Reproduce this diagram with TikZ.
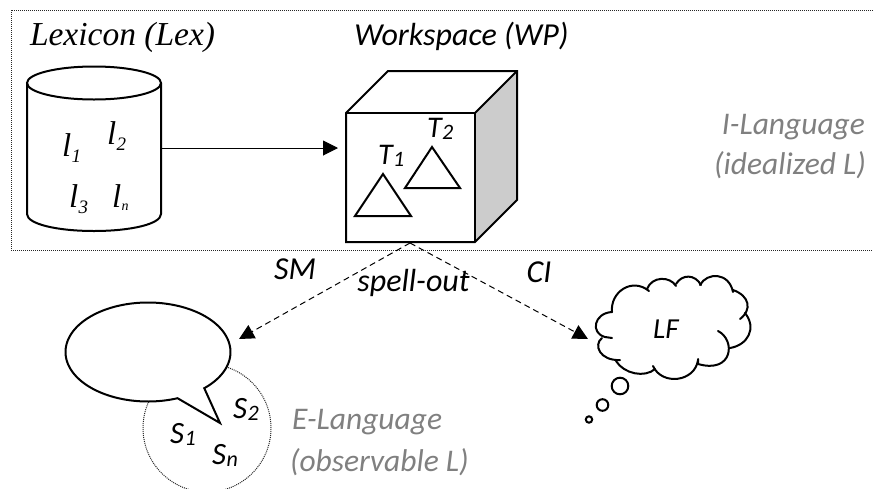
\documentclass[tikz,border=0pt]{standalone}
\usepackage{fontspec}
\setmainfont{Carlito}
\newfontfamily\serifit{Liberation Serif}
\usetikzlibrary{arrows.meta}
\definecolor{lbl}{RGB}{128,128,128}
\definecolor{sidegray}{RGB}{204,204,204}
\newcommand{\fs}[1]{\fontsize{#1}{#1}\selectfont}
\tikzset{
  every node/.style={inner sep=0pt,outer sep=0pt},
  shape line/.style={draw=black,line width=2pt,line join=miter},
  frame line/.style={draw=black!85,line width=1pt,dash pattern=on 1pt off 1pt},
  cloud line/.style={draw=black,line width=2pt,line cap=round},
  conn/.style={draw=black,line width=1pt},
  tip/.style={-{Triangle[length=15pt,width=15pt]}},
  lab/.style={font=\fs{32}\itshape,anchor=base},
  gray lab/.style={font=\fs{31.5}\itshape,text=lbl,anchor=base},
  sym/.style={font=\fs{33}\serifit\itshape,anchor=base west},
  var/.style={font=\fs{31}\itshape,anchor=base west}
}
\newcommand{\Ll}[2]{l\kern0.5pt\raisebox{-6pt}{\fs{#2}#1}}
\newcommand{\Tt}[2]{#1\kern0.5pt\raisebox{-2pt}{\fs{22}#2}}
\begin{document}
\begin{tikzpicture}[x=1pt,y=-1pt]
\useasboundingbox (0,0) rectangle (873,488);
% frame
\draw[frame line] (873,10) -- (11,10) -- (11,250) -- (873,250);
% Lexicon cylinder
\node[minimum width=134pt,minimum height=164pt] (lex) at (94,148) {};
\draw[shape line] (27,83) -- (27,214) .. controls (27,224) and (57,231) .. (94,231) .. controls (131,231) and (161,224) .. (161,214) -- (161,83);
\draw[shape line] (94,83) ellipse [x radius=67,y radius=16.5];
\node[font=\fs{33.5}\serifit\itshape,anchor=base west] (lextitle) at (30,45) {Lexicon (Lex)};
\node[sym] (l1) at (62,156) {\Ll{1}{19}};
\node[sym] (l2) at (107,144) {\Ll{2}{19}};
\node[sym] (l3) at (69,207) {\Ll{3}{19}};
\node[sym] (ln) at (112,207) {l\kern0.5pt\raisebox{-3pt}{\fs{14}n}};
% Workspace cube
\node[minimum width=129pt,minimum height=129pt] (front) at (410.5,177.5) {};
\fill[sidegray] (475,113) -- (517,71) -- (517,200) -- (475,242) -- cycle;
\draw[shape line] (346,113) -- (388,71) -- (517,71) -- (517,200) -- (475,242) -- (346,242) -- cycle;
\draw[shape line] (346,113) -- (475,113) -- (475,242);
\draw[shape line] (475,113) -- (517,71);
\node[lab] (wptitle) at (461.5,45) {Workspace (WP)};
\draw[shape line] (383,174) -- (411,216) -- (355,216) -- cycle;
\draw[shape line] (432,147) -- (460,188) -- (405,188) -- cycle;
\node[font=\fs{30}\itshape,anchor=base west] (t1) at (378,164) {\Tt{T}{1}};
\node[font=\fs{30}\itshape,anchor=base west] (t2) at (427,137) {\Tt{T}{2}};
% Lexicon to workspace
\draw[conn,tip,shorten >=8pt] (lex.east) -- (lex.east -| front.west);
% dotted circle behind speech bubble
\node[circle,draw=black!85,line width=1pt,dash pattern=on 1pt off 1pt,minimum size=128pt] (elang) at (207,428) {};
\draw[shape line,fill=white] plot[domain=69:407,samples=150] ({148+82.5*cos(\x)},{352+49.5*sin(\x)}) -- (220,423) -- cycle;
\node[var] (s1) at (170,443) {\Tt{S}{1}};
\node[var] (s2) at (233,418) {\Tt{S}{2}};
\node[var] (sn) at (212,464) {\Tt{S}{n}};
% cloud
\draw[cloud line] (612,312) .. controls (610,292) and (632,277) .. (649,291);
\draw[cloud line] (647,289) .. controls (652,276) and (670,276) .. (676,286);
\draw[cloud line] (676,284) .. controls (682,274) and (695,274) .. (701,285);
\draw[cloud line] (700,285) .. controls (707,272) and (729,272) .. (733,292);
\draw[cloud line] (733,290) .. controls (750,296) and (752,310) .. (740,319);
\draw[cloud line] (745,313) .. controls (757,328) and (748,345) .. (730,348);
\draw[cloud line] (718,331) .. controls (736,340) and (733,374) .. (698,364) -- (698,359);
\draw[cloud line] (698,360) .. controls (695,382) and (662,386) .. (653,366);
\draw[cloud line] (655,369) .. controls (645,378) and (624,374) .. (616,361);
\draw[cloud line] (620,360) .. controls (600,361) and (593,345) .. (602,338);
\draw[cloud line] (612,338) -- (605,337) .. controls (590,333) and (594,313) .. (612,312);
\node[font=\fs{29}\itshape,anchor=base] (lf) at (666,338) {LF};
\draw[line width=2pt] (620,386) circle [radius=8.3];
\draw[line width=2pt] (602.5,405) circle [radius=5.8];
\draw[line width=2pt] (589,419.5) circle [radius=3.2];
% spell-out
\coordinate (so) at (410,243);
\coordinate (smtip) at (239,339);
\coordinate (citip) at (588,339);
\draw[conn,dash pattern=on 6pt off 4pt,tip] (so) -- (smtip);
\draw[conn,dash pattern=on 6pt off 4pt,tip] (so) -- (citip);
\node[lab] (sm) at (295,279) {SM};
\node[lab] (spell) at (413.5,291) {spell-out};
\node[lab] (ci) at (539,282) {CI};
% language labels
\node[gray lab,anchor=base east] (il1) at (865,134) {I-Language};
\node[gray lab,anchor=base east] (il2) at (866,174) {(idealized L)};
\node[gray lab,anchor=base west] (el1) at (292,429) {E-Language};
\node[gray lab,anchor=base west] (el2) at (290,471) {(observable L)};
\end{tikzpicture}
\end{document}
